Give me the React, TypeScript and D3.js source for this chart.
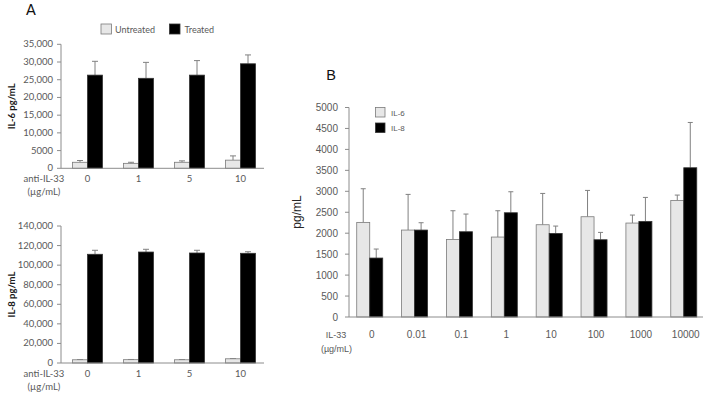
import * as d3 from "d3";

// Panel A: anti-IL-33 doses, untreated vs treated
const aDoses = ["0", "1", "5", "10"];
const il6Untreated = [1700, 1400, 1700, 2300];
const il6UntreatedSd = [500, 300, 400, 1200];
const il6Treated = [26300, 25400, 26300, 29500];
const il6TreatedSd = [3900, 4500, 4100, 2500];
const il8Untreated = [3300, 3400, 3300, 4300];
const il8UntreatedSd = [200, 200, 200, 200];
const il8Treated = [111100, 113400, 112400, 112100];
const il8TreatedSd = [4100, 2800, 2800, 1600];
const il6Ticks = [0, 5000, 10000, 15000, 20000, 25000, 30000, 35000];
const il8Ticks = [0, 20000, 40000, 60000, 80000, 100000, 120000, 140000];

// Panel B: IL-33 doses, IL-6 vs IL-8
const bDoses = ["0", "0.01", "0.1", "1", "10", "100", "1000", "10000"];
const bIl6 = [2258, 2075, 1852, 1908, 2202, 2393, 2242, 2783];
const bIl6Sd = [803, 851, 684, 628, 747, 628, 191, 127];
const bIl8 = [1407, 2075, 2035, 2488, 1995, 1844, 2282, 3562];
const bIl8Sd = [215, 175, 422, 501, 175, 175, 572, 1081];
const bTicks = d3.range(0, 5001, 500);

const lightFill = "#e7e7e7";
const lightStroke = "#7a7a7a";
const darkFill = "#000000";
const axisColor = "#8c8c8c";
const tickText = "#595959";
const fontA = "Lato, 'Open Sans', sans-serif";
const fontB = "'Liberation Sans', Arial, sans-serif";
const fmtComma = d3.format(",");

type Series = { values: number[]; sd: number[]; fill: string; stroke: string };

function Bars({
  x,
  y,
  doses,
  series,
  barWidth,
  capWidth
}: {
  x: d3.ScaleBand<string>;
  y: d3.ScaleLinear<number, number>;
  doses: string[];
  series: Series[];
  barWidth: number;
  capWidth: number;
}) {
  const center = (dose: string) => (x(dose) ?? 0) + x.bandwidth() / 2;
  return (
    <g>
      {series.map((s, si) =>
        doses.map((dose, i) => {
          const left = center(dose) - (barWidth * series.length) / 2 + si * barWidth;
          const top = y(s.values[i]);
          const errTop = y(s.values[i] + s.sd[i]);
          const cx = left + barWidth / 2;
          return (
            <g key={`${si}-${dose}`}>
              <line x1={cx} x2={cx} y1={top} y2={errTop} stroke="#808080" strokeWidth={1} />
              <line x1={cx - capWidth / 2} x2={cx + capWidth / 2} y1={errTop} y2={errTop} stroke="#808080" strokeWidth={1} />
              <rect
                x={left}
                y={top}
                width={barWidth}
                height={y(0) - top}
                fill={s.fill}
                stroke={s.stroke}
                strokeWidth={0.8}
              />
            </g>
          );
        })
      )}
    </g>
  );
}

function PanelA({
  top,
  bottom,
  ticks,
  max,
  untreated,
  untreatedSd,
  treated,
  treatedSd,
  title
}: {
  top: number;
  bottom: number;
  ticks: number[];
  max: number;
  untreated: number[];
  untreatedSd: number[];
  treated: number[];
  treatedSd: number[];
  title: string;
}) {
  const axisX = 61;
  const x = d3.scaleBand<string>().domain(aDoses).range([62, 266]);
  const y = d3.scaleLinear().domain([0, max]).range([bottom, top]);
  const labelY = bottom + 14;
  return (
    <g fontFamily={fontA}>
      <Bars
        x={x}
        y={y}
        doses={aDoses}
        barWidth={15}
        capWidth={6}
        series={[
          { values: untreated, sd: untreatedSd, fill: lightFill, stroke: lightStroke },
          { values: treated, sd: treatedSd, fill: darkFill, stroke: "#333" }
        ]}
      />
      <line x1={axisX} x2={axisX} y1={y(max)} y2={y(0)} stroke={axisColor} />
      <line x1={axisX} x2={264} y1={y(0)} y2={y(0)} stroke={axisColor} />
      {ticks.map((t) => (
        <g key={t}>
          <line x1={axisX - 4} x2={axisX} y1={y(t)} y2={y(t)} stroke={axisColor} />
          <text x={53} y={y(t) + 3} textAnchor="end" fontSize={9.5} fill={tickText}>
            {t >= 10000 ? fmtComma(t) : String(t)}
          </text>
        </g>
      ))}
      {aDoses.map((d) => (
        <text key={d} x={(x(d) ?? 0) + x.bandwidth() / 2} y={labelY} textAnchor="middle" fontSize={9.5} fill={tickText}>
          {d}
        </text>
      ))}
      <text x={44} y={labelY} textAnchor="middle" fontSize={9.5} fill={tickText}>
        anti-IL-33
      </text>
      <text x={44} y={labelY + 13} textAnchor="middle" fontSize={9.5} fill={tickText}>
        (µg/mL)
      </text>
      <text
        transform={`translate(15, ${(top + bottom) / 2}) rotate(-90)`}
        textAnchor="middle"
        fontSize={9.5}
        fontWeight="bold"
        fill="#1a1a1a"
      >
        {title}
      </text>
    </g>
  );
}

function PanelB() {
  const axisX = 349;
  const x = d3.scaleBand<string>().domain(bDoses).range([347.3, 706.2]);
  const y = d3.scaleLinear().domain([0, 5000]).range([317, 107.5]);
  const labelY = 337.5;
  return (
    <g fontFamily={fontB}>
      <Bars
        x={x}
        y={y}
        doses={bDoses}
        barWidth={13}
        capWidth={5}
        series={[
          { values: bIl6, sd: bIl6Sd, fill: lightFill, stroke: lightStroke },
          { values: bIl8, sd: bIl8Sd, fill: darkFill, stroke: "#333" }
        ]}
      />
      <line x1={axisX} x2={axisX} y1={y(5000)} y2={y(0)} stroke={axisColor} />
      <line x1={axisX} x2={703} y1={y(0)} y2={y(0)} stroke={axisColor} />
      {bTicks.map((t) => (
        <g key={t}>
          <line x1={axisX - 4} x2={axisX} y1={y(t)} y2={y(t)} stroke={axisColor} />
          <text x={338} y={y(t) + 3.5} textAnchor="end" fontSize={10} fill={tickText}>
            {t}
          </text>
        </g>
      ))}
      {bDoses.map((d) => (
        <text key={d} x={(x(d) ?? 0) + x.bandwidth() / 2 + 2} y={labelY} textAnchor="middle" fontSize={10} fill={tickText}>
          {d}
        </text>
      ))}
      <text x={336} y={labelY} textAnchor="middle" fontSize={9} fill={tickText}>
        IL-33
      </text>
      <text x={336.5} y={labelY + 14} textAnchor="middle" fontSize={9} fill={tickText}>
        (µg/mL)
      </text>
      <text transform="translate(301, 212) rotate(-90)" textAnchor="middle" fontSize={12} fill="#262626">
        pg/mL
      </text>
      <rect x={375.5} y={107.5} width={9.5} height={9.5} fill={lightFill} stroke={lightStroke} strokeWidth={0.8} />
      <text x={391} y={115.5} fontSize={8} fill={tickText}>
        IL-6
      </text>
      <rect x={375.5} y={123} width={9.5} height={9.5} fill={darkFill} stroke="#333" strokeWidth={0.8} />
      <text x={391} y={131} fontSize={8} fill={tickText}>
        IL-8
      </text>
      <text x={331} y={80} textAnchor="middle" fontSize={14.5} fill="#111">
        B
      </text>
    </g>
  );
}

export default function App() {
  return (
    <svg
      width={711}
      height={400}
      viewBox="0 0 711 400"
      style={{ position: "absolute", left: 0, top: 0, background: "#fff" }}
    >
      <rect width={711} height={400} fill="#fff" />
      <g fontFamily={fontA}>
        <text x={31} y={15} textAnchor="middle" fontSize={14.5} fill="#111">
          A
        </text>
        <rect x={101} y={24} width={10.5} height={10} fill={lightFill} stroke={lightStroke} strokeWidth={0.8} />
        <text x={115} y={32.5} fontSize={9} fill={tickText}>
          Untreated
        </text>
        <rect x={169.5} y={24} width={10.5} height={10} fill={darkFill} stroke="#333" strokeWidth={0.8} />
        <text x={184.5} y={32.5} fontSize={9} fill={tickText}>
          Treated
        </text>
      </g>
      <PanelA
        top={44.3}
        bottom={168.3}
        ticks={il6Ticks}
        max={35000}
        untreated={il6Untreated}
        untreatedSd={il6UntreatedSd}
        treated={il6Treated}
        treatedSd={il6TreatedSd}
        title="IL-6 pg/mL"
      />
      <PanelA
        top={226}
        bottom={363}
        ticks={il8Ticks}
        max={140000}
        untreated={il8Untreated}
        untreatedSd={il8UntreatedSd}
        treated={il8Treated}
        treatedSd={il8TreatedSd}
        title="IL-8 pg/mL"
      />
      <PanelB />
    </svg>
  );
}
